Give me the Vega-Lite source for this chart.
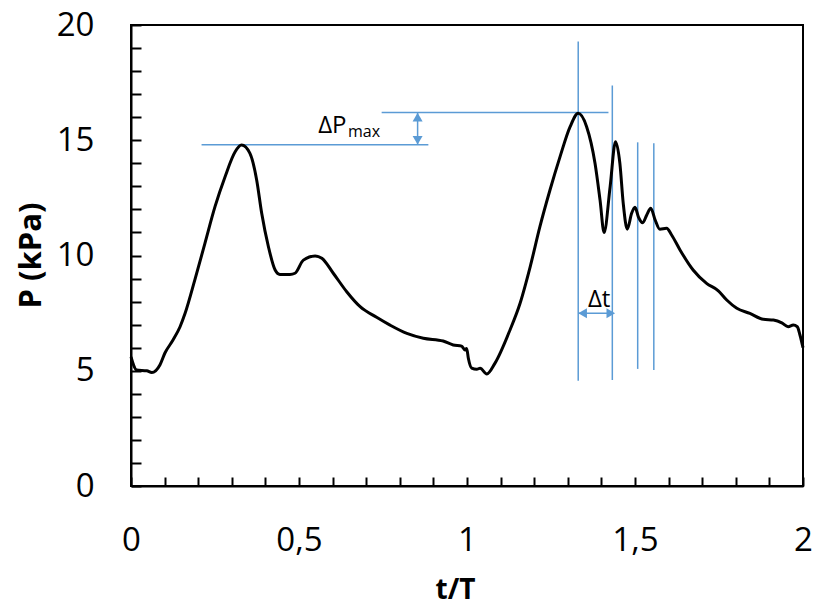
{
  "$schema": "https://vega.github.io/schema/vega-lite/v6.json",
  "width": 672,
  "height": 461,
  "autosize": {"type": "none"},
  "padding": {"left": 131, "top": 25, "right": 12, "bottom": 119},
  "background": "white",
  "config": {
    "view": {"stroke": "black", "strokeWidth": 2},
    "font": "Open Sans",
    "axis": {
      "grid": false,
      "domainColor": "black",
      "domainWidth": 2,
      "tickColor": "black",
      "tickWidth": 2,
      "labelColor": "black",
      "labelFont": "Open Sans",
      "labelFontSize": 33,
      "labelFlush": false,
      "labelOverlap": false,
      "titleFont": "Open Sans",
      "titleFontWeight": "bold",
      "titleColor": "black"
    }
  },
  "datasets": {
    "curve": [
      {"t": 0.0, "P": 5.6},
      {"t": 0.017, "P": 5.03},
      {"t": 0.047, "P": 5.0},
      {"t": 0.062, "P": 4.92},
      {"t": 0.086, "P": 5.25},
      {"t": 0.101, "P": 5.77},
      {"t": 0.125, "P": 6.33},
      {"t": 0.146, "P": 6.91},
      {"t": 0.161, "P": 7.49},
      {"t": 0.19, "P": 8.94},
      {"t": 0.22, "P": 10.53},
      {"t": 0.25, "P": 12.12},
      {"t": 0.28, "P": 13.42},
      {"t": 0.31, "P": 14.5},
      {"t": 0.329, "P": 14.79},
      {"t": 0.354, "P": 14.43},
      {"t": 0.374, "P": 13.28},
      {"t": 0.389, "P": 11.83},
      {"t": 0.409, "P": 10.38},
      {"t": 0.429, "P": 9.37},
      {"t": 0.443, "P": 9.18},
      {"t": 0.473, "P": 9.18},
      {"t": 0.488, "P": 9.23},
      {"t": 0.513, "P": 9.8},
      {"t": 0.548, "P": 9.98},
      {"t": 0.568, "P": 9.88},
      {"t": 0.602, "P": 9.23},
      {"t": 0.642, "P": 8.43},
      {"t": 0.682, "P": 7.78},
      {"t": 0.731, "P": 7.32},
      {"t": 0.771, "P": 6.98},
      {"t": 0.821, "P": 6.62},
      {"t": 0.87, "P": 6.41},
      {"t": 0.929, "P": 6.29},
      {"t": 0.959, "P": 6.12},
      {"t": 0.984, "P": 6.07},
      {"t": 0.994, "P": 5.9},
      {"t": 0.999, "P": 5.97},
      {"t": 1.004, "P": 5.54},
      {"t": 1.014, "P": 5.11},
      {"t": 1.029, "P": 5.06},
      {"t": 1.039, "P": 5.11},
      {"t": 1.059, "P": 4.86},
      {"t": 1.083, "P": 5.32},
      {"t": 1.128, "P": 6.77},
      {"t": 1.158, "P": 7.93},
      {"t": 1.188, "P": 9.51},
      {"t": 1.217, "P": 11.25},
      {"t": 1.247, "P": 12.84},
      {"t": 1.277, "P": 14.29},
      {"t": 1.307, "P": 15.59},
      {"t": 1.331, "P": 16.17},
      {"t": 1.356, "P": 15.59},
      {"t": 1.381, "P": 14.0},
      {"t": 1.396, "P": 12.4},
      {"t": 1.408, "P": 11.0},
      {"t": 1.426, "P": 12.99},
      {"t": 1.442, "P": 14.94},
      {"t": 1.455, "P": 14.0},
      {"t": 1.465, "P": 12.26},
      {"t": 1.477, "P": 11.14},
      {"t": 1.49, "P": 11.83},
      {"t": 1.5, "P": 12.09},
      {"t": 1.51, "P": 11.68},
      {"t": 1.523, "P": 11.42},
      {"t": 1.535, "P": 11.76},
      {"t": 1.547, "P": 12.05},
      {"t": 1.56, "P": 11.54},
      {"t": 1.574, "P": 11.14},
      {"t": 1.594, "P": 11.18},
      {"t": 1.609, "P": 10.89},
      {"t": 1.634, "P": 10.24},
      {"t": 1.673, "P": 9.37},
      {"t": 1.713, "P": 8.79},
      {"t": 1.748, "P": 8.47},
      {"t": 1.773, "P": 8.07},
      {"t": 1.803, "P": 7.71},
      {"t": 1.842, "P": 7.49},
      {"t": 1.882, "P": 7.23},
      {"t": 1.912, "P": 7.2},
      {"t": 1.937, "P": 7.08},
      {"t": 1.956, "P": 6.91},
      {"t": 1.971, "P": 6.98},
      {"t": 1.983, "P": 6.91},
      {"t": 1.991, "P": 6.55},
      {"t": 2.0, "P": 6.0}
    ],
    "rules": [
      {"t": 0.21, "t2": 0.885, "P": 14.8, "P2": 14.8},
      {"t": 0.746, "t2": 1.421, "P": 16.2, "P2": 16.2},
      {"t": 0.853, "t2": 0.853, "P": 16.2, "P2": 14.8},
      {"t": 1.331, "t2": 1.331, "P": 19.28, "P2": 4.57},
      {"t": 1.4325, "t2": 1.4325, "P": 17.38, "P2": 4.6},
      {"t": 1.508, "t2": 1.508, "P": 14.91, "P2": 5.08},
      {"t": 1.556, "t2": 1.556, "P": 14.87, "P2": 5.03},
      {"t": 1.331, "t2": 1.4325, "P": 7.49, "P2": 7.49}
    ],
    "heads": [
      {"t": 0.853, "P": 16.0, "shape": "triangle-up"},
      {"t": 0.853, "P": 15.0, "shape": "triangle-down"},
      {"t": 1.344, "P": 7.49, "shape": "triangle-left"},
      {"t": 1.428, "P": 7.49, "shape": "triangle-right"}
    ],
    "bigtext": [
      {"t": 0.557, "P": 15.31, "label": "ΔP"},
      {"t": 1.36, "P": 7.78, "label": "Δt"}
    ],
    "subtext": [
      {"t": 0.646, "P": 15.16, "label": "max"}
    ]
  },
  "encoding": {
    "x": {
      "field": "t", "type": "quantitative", "title": "t/T",
      "scale": {"domain": [0, 2], "nice": false, "zero": false},
      "axis": {
        "values": [0, 0.1, 0.2, 0.3, 0.4, 0.5, 0.6, 0.7, 0.8, 0.9, 1, 1.1, 1.2, 1.3, 1.4, 1.5, 1.6, 1.7, 1.8, 1.9, 2],
        "labelExpr": "abs(datum.value*2 - round(datum.value*2)) < 0.001 ? replace(format(datum.value, '~g'), '.', ',') : ''",
        "tickSize": -9,
        "labelPadding": 47,
        "titleFontSize": 28,
        "titleX": 324,
        "titleY": 112,
        "titleBaseline": "alphabetic",
        "titleAlign": "center"
      }
    },
    "y": {
      "field": "P", "type": "quantitative", "title": "P (kPa)",
      "scale": {"domain": [0, 20], "nice": false},
      "axis": {
        "values": [0, 1, 2, 3, 4, 5, 6, 7, 8, 9, 10, 11, 12, 13, 14, 15, 16, 17, 18, 19, 20],
        "labelExpr": "datum.value % 5 == 0 ? datum.label : ''",
        "tickSize": -10,
        "labelPadding": 47,
        "titleFontSize": 31,
        "titleAngle": -90,
        "titleX": -91,
        "titleY": 230,
        "titleBaseline": "alphabetic",
        "titleAlign": "center"
      }
    }
  },
  "layer": [
    {
      "data": {"name": "rules"},
      "mark": {"type": "rule", "color": "#5B9BD5", "strokeWidth": 1.5},
      "encoding": {
        "x2": {"field": "t2"},
        "y2": {"field": "P2"}
      }
    },
    {
      "data": {"name": "curve"},
      "mark": {"type": "line", "color": "black", "strokeWidth": 3, "interpolate": "monotone"},
      "encoding": {}
    },
    {
      "data": {"name": "heads"},
      "mark": {"type": "point", "filled": true, "color": "#5B9BD5", "size": 100, "opacity": 1},
      "encoding": {
        "shape": {"field": "shape", "type": "nominal", "scale": null, "legend": null}
      }
    },
    {
      "data": {"name": "bigtext"},
      "mark": {"type": "text", "font": "Open Sans", "fontSize": 24, "align": "left", "baseline": "alphabetic", "color": "black"},
      "encoding": {
        "text": {"field": "label"}
      }
    },
    {
      "data": {"name": "subtext"},
      "mark": {"type": "text", "font": "Open Sans", "fontSize": 16, "align": "left", "baseline": "alphabetic", "color": "black"},
      "encoding": {
        "text": {"field": "label"}
      }
    }
  ]
}
